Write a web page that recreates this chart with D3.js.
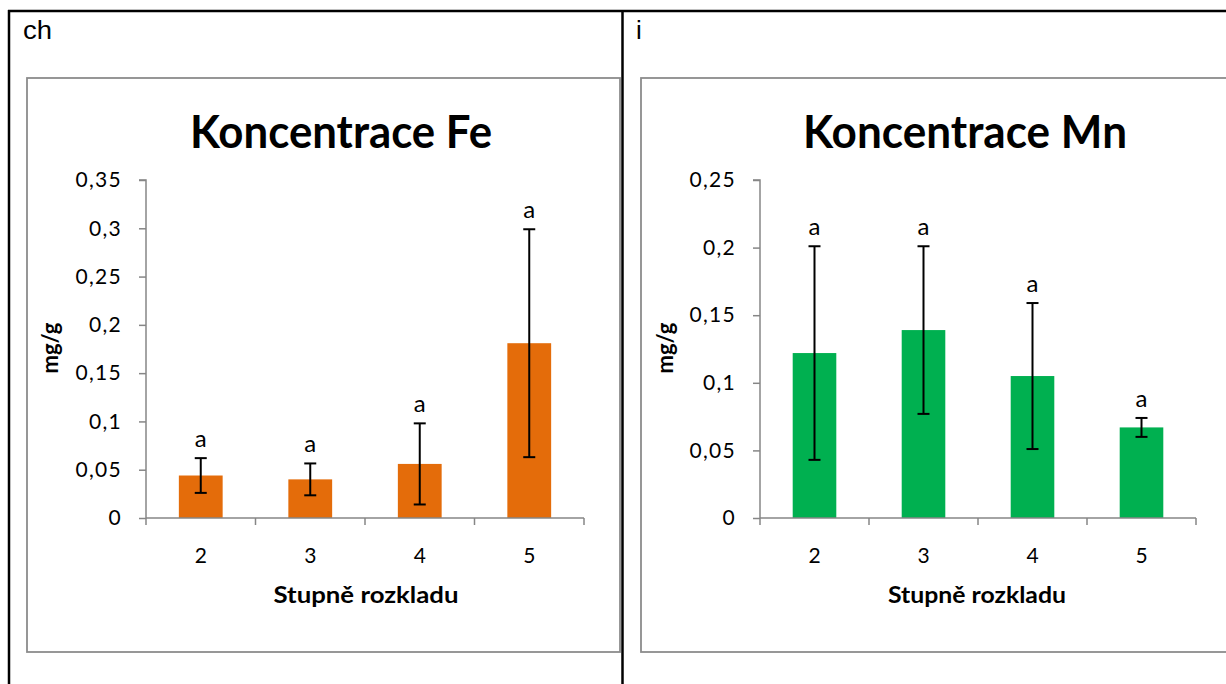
<!DOCTYPE html>
<html>
<head>
<meta charset="utf-8">
<script src="https://cdn.jsdelivr.net/npm/d3@7"></script>
<style>
  html, body { margin: 0; padding: 0; background: #fff; }
  svg { display: block; }
  text { font-family: Lato, "Open Sans", sans-serif; }
</style>
</head>
<body>
<svg id="chart" width="1226" height="684"></svg>
<script>
// ---- data ----
const categories = ["2", "3", "4", "5"];

const feValues = [0.044, 0.040, 0.056, 0.181];
const feErrors = [0.018, 0.0165, 0.042, 0.118];
const feLetters = ["a", "a", "a", "a"];
const feTicks = [0, 0.05, 0.1, 0.15, 0.2, 0.25, 0.3, 0.35];
const feTickLabels = ["0", "0,05", "0,1", "0,15", "0,2", "0,25", "0,3", "0,35"];

const mnValues = [0.122, 0.139, 0.105, 0.067];
const mnErrors = [0.079, 0.062, 0.054, 0.007];
const mnLetters = ["a", "a", "a", "a"];
const mnTicks = [0, 0.05, 0.1, 0.15, 0.2, 0.25];
const mnTickLabels = ["0", "0,05", "0,1", "0,15", "0,2", "0,25"];

const panelLabels = ["ch", "i"];
const titles = ["Koncentrace Fe", "Koncentrace Mn"];
const xTitle = "Stupně rozkladu";
const yTitle = "mg/g";

// ---- drawing ----
const svg = d3.select("#chart");
svg.append("rect").attr("width", 1226).attr("height", 684).attr("fill", "#fff");

// table borders
const tbl = svg.append("g").attr("stroke", "#000").attr("stroke-width", 2.5);
tbl.append("line").attr("x1", 8).attr("x2", 1226).attr("y1", 11).attr("y2", 11);
tbl.append("line").attr("x1", 9).attr("x2", 9).attr("y1", 10).attr("y2", 684);
tbl.append("line").attr("x1", 622.5).attr("x2", 622.5).attr("y1", 10).attr("y2", 684);

function drawChart(opt) {
  const g = svg.append("g");
  // panel label
  const pl = g.append("text").attr("x", opt.labelX).attr("y", 39)
    .style("font-family", "'Liberation Sans', Arial, sans-serif")
    .style("font-size", "26px").attr("fill", "#000").text(opt.label);
  if (opt.labelW) pl.attr("textLength", opt.labelW).attr("lengthAdjust", "spacingAndGlyphs");
  // chart frame
  g.append("rect").attr("x", opt.boxX).attr("y", 78).attr("width", opt.boxW).attr("height", 574)
    .attr("fill", "#fff").attr("stroke", "#8c8c8c").attr("stroke-width", 1.8);

  const x = d3.scaleBand().domain(categories).range([opt.x0, opt.x1]).paddingInner(0.6).paddingOuter(0.3);
  const xb = d3.scaleBand().domain(categories).range([opt.x0, opt.x1]);
  const y = d3.scaleLinear().domain([0, d3.max(opt.ticks)]).range([518, 180]);

  // title
  g.append("text").attr("x", opt.titleX).attr("y", 148).attr("text-anchor", "middle")
    .attr("font-size", 46).attr("font-weight", 700).attr("fill", "#000")
    .attr("textLength", opt.titleW).attr("lengthAdjust", "spacingAndGlyphs").text(opt.title);

  // y axis
  const yAxis = d3.axisLeft(y).tickValues(opt.ticks).tickSize(7).tickPadding(17)
    .tickFormat((d, i) => opt.tickLabels[i]);
  const ya = g.append("g").attr("transform", `translate(${opt.x0},0)`).call(yAxis);
  ya.select(".domain").attr("stroke", "#868686").attr("stroke-width", 1.5).attr("d", `M-7,180H0V518`);
  ya.selectAll(".tick line").attr("stroke", "#868686").attr("stroke-width", 1.5);
  ya.selectAll(".tick text").attr("font-family", "Lato, sans-serif").attr("font-size", 21)
    .attr("letter-spacing", 1.3).attr("fill", "#000");

  // bars
  const data = categories.map((c, i) => ({ c, v: opt.values[i], e: opt.errors[i], l: opt.letters[i] }));
  g.selectAll("rect.bar").data(data).enter().append("rect").attr("class", "bar")
    .attr("x", d => x(d.c)).attr("width", x.bandwidth())
    .attr("y", d => y(d.v)).attr("height", d => y(0) - y(d.v))
    .attr("fill", opt.color);

  // x axis
  const xa = g.append("g").attr("transform", `translate(0,518)`);
  xa.append("line").attr("x1", opt.x0).attr("x2", opt.x1).attr("y1", 0).attr("y2", 0)
    .attr("stroke", "#868686").attr("stroke-width", 1.5);
  const bounds = categories.map(c => xb(c)).concat([opt.x1]);
  xa.selectAll("line.tk").data(bounds).enter().append("line").attr("class", "tk")
    .attr("x1", d => d).attr("x2", d => d).attr("y1", 0).attr("y2", 7)
    .attr("stroke", "#868686").attr("stroke-width", 1.5);
  xa.selectAll("text").data(categories).enter().append("text")
    .attr("x", d => xb(d) + xb.bandwidth() / 2).attr("y", 45).attr("text-anchor", "middle")
    .attr("font-size", 21).attr("fill", "#000").text(d => d);

  // error bars
  const eb = g.append("g").attr("stroke", "#000").attr("stroke-width", 2);
  data.forEach(d => {
    const cx = x(d.c) + x.bandwidth() / 2;
    eb.append("line").attr("x1", cx).attr("x2", cx).attr("y1", y(d.v + d.e)).attr("y2", y(d.v - d.e));
    eb.append("line").attr("x1", cx - 6).attr("x2", cx + 6).attr("y1", y(d.v + d.e)).attr("y2", y(d.v + d.e));
    eb.append("line").attr("x1", cx - 6).attr("x2", cx + 6).attr("y1", y(d.v - d.e)).attr("y2", y(d.v - d.e));
  });
  // letters
  g.selectAll("text.let").data(data).enter().append("text").attr("class", "let")
    .attr("x", d => x(d.c) + x.bandwidth() / 2).attr("y", d => y(d.v + d.e) - 11)
    .attr("text-anchor", "middle").attr("font-size", 24).attr("fill", "#000").text(d => d.l);

  // axis titles
  g.append("text").attr("x", opt.xTitleX).attr("y", 603).attr("text-anchor", "middle")
    .attr("font-size", 22).attr("font-weight", 700).attr("fill", "#000")
    .attr("textLength", opt.xTitleW).attr("lengthAdjust", "spacingAndGlyphs").text(xTitle);
  g.append("text").attr("transform", `translate(${opt.yTitleX},348) rotate(-90)`).attr("text-anchor", "middle")
    .attr("font-size", 22).attr("font-weight", 700).attr("fill", "#000").text(yTitle);
}

drawChart({
  label: panelLabels[0], labelX: 23, labelW: 29, boxX: 27, boxW: 593,
  x0: 146, x1: 584, titleX: 341, titleW: 302, title: titles[0], yTitleX: 58,
  xTitleX: 366, xTitleW: 185,
  values: feValues, errors: feErrors, letters: feLetters,
  ticks: feTicks, tickLabels: feTickLabels, color: "#E46C0A"
});
drawChart({
  label: panelLabels[1], labelX: 636, labelW: 0, boxX: 641, boxW: 600,
  x0: 760, x1: 1196, titleX: 965, titleW: 324, title: titles[1], yTitleX: 673,
  xTitleX: 977, xTitleW: 178,
  values: mnValues, errors: mnErrors, letters: mnLetters,
  ticks: mnTicks, tickLabels: mnTickLabels, color: "#00B050"
});
</script>
</body>
</html>
